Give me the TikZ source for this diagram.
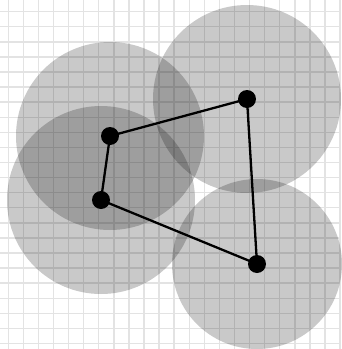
\documentclass[tikz,border=0pt]{standalone}
\usetikzlibrary{positioning}

\tikzset{
    gridline/.style={line width=1.4pt, black!11},
    disk/.style={fill=black, fill opacity=0.21},
    dot/.style={circle, fill=black, inner sep=0pt, minimum size=18pt},
    edge/.style={line width=2.3pt, black}
}

\begin{document}
\begin{tikzpicture}[x=1pt, y=-1pt]
    \useasboundingbox (0,0) rectangle (341,349);

    % Rejilla
    \foreach \i in {0,...,22} {
        \draw[gridline] (8.3+15.08*\i, 0) -- (8.3+15.08*\i, 349);
    }
    \foreach \j in {0,...,22} {
        \draw[gridline] (0, 11.7+15.08*\j) -- (341, 11.7+15.08*\j);
    }

    % Puntos
    \foreach \n/\x/\y in {p1/110/136, p2/247/99, p3/101/200, p4/257/264} {
        \coordinate (\n) at (\x,\y);
    }

    % Discos
    \foreach \n/\r in {p1/94, p2/94, p3/94, p4/85} {
        \fill[disk] (\n) circle [radius=\r pt];
    }

    % Aristas
    \draw[edge] (p1) -- (p2) -- (p4) -- (p3) -- (p1);

    % Nodos
    \foreach \n in {p1, p2, p3, p4} {
        \node[dot] (\n dot) at (\n) {};
    }
\end{tikzpicture}
\end{document}
